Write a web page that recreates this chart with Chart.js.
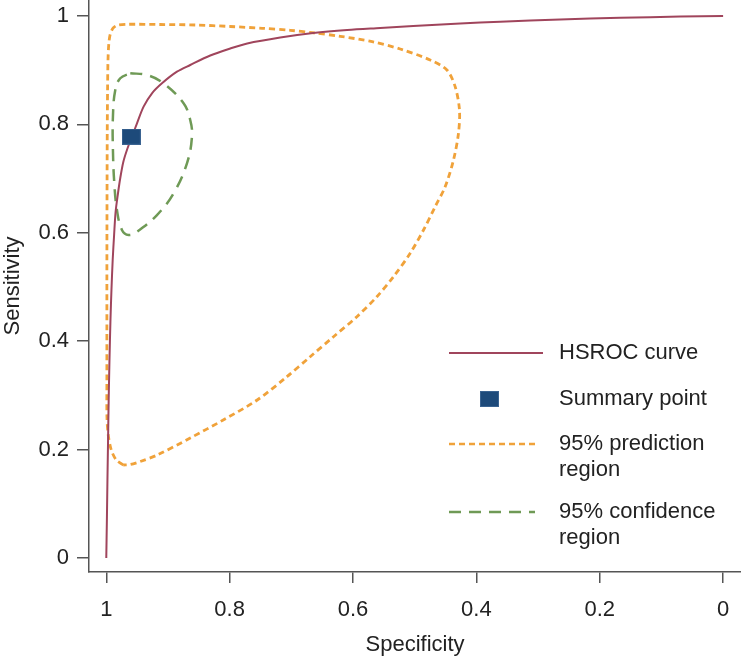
<!DOCTYPE html>
<html>
<head>
<meta charset="utf-8">
<script src="https://cdn.jsdelivr.net/npm/chart.js@4/dist/chart.umd.min.js"></script>
<style>
  html, body { margin: 0; padding: 0; background: #fff; }
  #wrap { width: 741px; height: 658px; }
</style>
</head>
<body>
<div id="wrap"><canvas id="roc" width="741" height="658"></canvas></div>
<script>
// Data -----------------------------------------------------------------------------------

var TICK_VALUES = [0, 0.2, 0.4, 0.6, 0.8, 1];

// HSROC curve (specificity, sensitivity)
var HSROC_SPEC = [1.0, 0.9990, 0.9981, 0.9971, 0.9961, 0.9948, 0.9932, 0.9916, 0.9896, 0.9873, 0.9849, 0.9814, 0.9773, 0.9724, 0.9665, 0.9584, 0.9502, 0.9395, 0.9259, 0.9097, 0.8854, 0.8639, 0.8314, 0.7990, 0.7715, 0.7180, 0.6645, 0.6094, 0.5559, 0.5024, 0.4263, 0.3614, 0.2642, 0.1669, 0.0697, 0.0];
var HSROC_SENS = [0.0, 0.0701, 0.1439, 0.2177, 0.2915, 0.3653, 0.4391, 0.4945, 0.5498, 0.5959, 0.6384, 0.6697, 0.7011, 0.7306, 0.7528, 0.7773, 0.8020, 0.8327, 0.8574, 0.8758, 0.8972, 0.9096, 0.9271, 0.9400, 0.9493, 0.9603, 0.9686, 0.9742, 0.9779, 0.9815, 0.9862, 0.9895, 0.9935, 0.9967, 0.9989, 1.0];

var SUMMARY_SPEC = [0.9595];
var SUMMARY_SENS = [0.7773];

// 95% prediction region (closed contour)
var PRED_SPEC = [0.9724, 0.9838, 0.9919, 0.9968, 0.9989, 0.9990, 0.9990, 0.9990, 0.9989, 0.9987, 0.9984, 0.9979, 0.9972, 0.9959, 0.9935, 0.9887, 0.9822, 0.9643, 0.9125, 0.8558, 0.7990, 0.7472, 0.7018, 0.6661, 0.6207, 0.5689, 0.5235, 0.4749, 0.4478, 0.4344, 0.4274, 0.4290, 0.4371, 0.4506, 0.4668, 0.4857, 0.5073, 0.5344, 0.5613, 0.5937, 0.6316, 0.6694, 0.7071, 0.7553, 0.8104, 0.8639, 0.9173, 0.9449, 0.9611, 0.9724];
var PRED_SENS = [0.1716, 0.1808, 0.1993, 0.2269, 0.2601, 0.3284, 0.4207, 0.5129, 0.6052, 0.6974, 0.7897, 0.8635, 0.9188, 0.9483, 0.9668, 0.9779, 0.9828, 0.9847, 0.9843, 0.9834, 0.9806, 0.9773, 0.9736, 0.9692, 0.9625, 0.9526, 0.9391, 0.9188, 0.9004, 0.8696, 0.8266, 0.7836, 0.7343, 0.6851, 0.6482, 0.6052, 0.5622, 0.5190, 0.4821, 0.4452, 0.4083, 0.3714, 0.3345, 0.2915, 0.2546, 0.2214, 0.1900, 0.1780, 0.1725, 0.1716];

// 95% confidence region (closed contour)
var CONF_SPEC = [0.9611, 0.9340, 0.9071, 0.8747, 0.8639, 0.8611, 0.8692, 0.8909, 0.9178, 0.9502, 0.9638, 0.9746, 0.9827, 0.9870, 0.9892, 0.9892, 0.9854, 0.9773, 0.9611];
var CONF_SENS = [0.8943, 0.8911, 0.8758, 0.8389, 0.8081, 0.7773, 0.7282, 0.6729, 0.6328, 0.6020, 0.5959, 0.6052, 0.6421, 0.6919, 0.7528, 0.8142, 0.8635, 0.8851, 0.8943];

// Styles ---------------------------------------------------------------------------------

var FONT = '"Liberation Sans", Arial, Helvetica, sans-serif';
var TEXT_COLOR = '#222';
var AXIS_COLOR = '#555';

var HSROC_COLOR = '#a0455c';
var SUMMARY_COLOR = '#1d4a7a';
var PRED_COLOR = '#f0a23a';
var CONF_COLOR = '#6f9a56';

var PRED_DASH = [6, 4];
var CONF_DASH = [12, 8];

function toPoints(xs, ys) {
    return xs.map(function (x, i) { return { x: x, y: ys[i] }; });
}

function makeSquare() {
    var c = document.createElement('canvas');
    c.width = 19;
    c.height = 16;
    var g = c.getContext('2d');
    g.fillStyle = SUMMARY_COLOR;
    g.fillRect(0, 0, 19, 16);
    g.strokeStyle = '#3a6391';
    g.lineWidth = 1;
    g.strokeRect(0.5, 0.5, 18, 15);
    return c;
}

var square = makeSquare();

function fixFit(scale, size, vertical) {
    if (vertical) {
        scale.width = size;
    } else {
        scale.height = size;
    }
    scale.paddingTop = 0;
    scale.paddingBottom = 0;
    scale.paddingLeft = 0;
    scale.paddingRight = 0;
}

// Legend drawn inside the plot area, lower right -------------------------------------------

var insideLegend = {
    id: 'insideLegend',
    afterDraw: function (chart) {
        var ctx = chart.ctx;
        var area = chart.chartArea;
        var x0 = area.right - 292;
        var x1 = area.right - 198;
        var tx = area.right - 182;
        var base = area.bottom;

        ctx.save();
        ctx.font = '22px ' + FONT;
        ctx.fillStyle = TEXT_COLOR;
        ctx.textBaseline = 'middle';
        ctx.textAlign = 'left';

        var items = [
            { kind: 'line', color: HSROC_COLOR, dash: [], width: 2, y: base - 219, text: ['HSROC curve'] },
            { kind: 'square', y: base - 173, text: ['Summary point'] },
            { kind: 'line', color: PRED_COLOR, dash: PRED_DASH, width: 2.5, y: base - 128, text: ['95% prediction', 'region'], end: x1 - 8 },
            { kind: 'line', color: CONF_COLOR, dash: CONF_DASH, width: 2.5, y: base - 60, text: ['95% confidence', 'region'], end: x1 - 8 }
        ];

        items.forEach(function (it) {
            if (it.kind === 'line') {
                ctx.beginPath();
                ctx.setLineDash(it.dash);
                ctx.strokeStyle = it.color;
                ctx.lineWidth = it.width;
                ctx.moveTo(x0, it.y);
                ctx.lineTo(it.end || x1, it.y);
                ctx.stroke();
                ctx.setLineDash([]);
            } else {
                ctx.drawImage(square, area.right - 261, it.y - 8);
            }
            it.text.forEach(function (t, k) {
                ctx.fillText(t, tx, it.y + k * 26);
            });
        });
        ctx.restore();
    }
};

// Chart ----------------------------------------------------------------------------------

new Chart(document.getElementById('roc').getContext('2d'), {
    type: 'scatter',
    data: {
        datasets: [
            {
                label: 'Summary point',
                data: toPoints(SUMMARY_SPEC, SUMMARY_SENS),
                pointStyle: square,
                pointRadius: 9,
                order: 0
            },
            {
                label: 'HSROC curve',
                data: toPoints(HSROC_SPEC, HSROC_SENS),
                showLine: true,
                borderColor: HSROC_COLOR,
                borderWidth: 2,
                pointRadius: 0,
                tension: 0.3,
                order: 1
            },
            {
                label: '95% confidence region',
                data: toPoints(CONF_SPEC, CONF_SENS),
                showLine: true,
                borderColor: CONF_COLOR,
                borderWidth: 2.5,
                borderDash: CONF_DASH,
                pointRadius: 0,
                tension: 0.4,
                order: 2
            },
            {
                label: '95% prediction region',
                data: toPoints(PRED_SPEC, PRED_SENS),
                showLine: true,
                borderColor: PRED_COLOR,
                borderWidth: 2.8,
                borderDash: PRED_DASH,
                pointRadius: 0,
                tension: 0.3,
                order: 3
            }
        ]
    },
    options: {
        responsive: false,
        animation: false,
        layout: { padding: 0, autoPadding: false },
        plugins: {
            legend: { display: false },
            tooltip: { enabled: false }
        },
        scales: {
            x: {
                type: 'linear',
                reverse: true,
                min: -0.029,
                max: 1.028,
                afterBuildTicks: function (scale) {
                    scale.ticks = TICK_VALUES.map(function (v) { return { value: v }; });
                },
                afterFit: function (scale) { fixFit(scale, 86, false); },
                ticks: {
                    color: TEXT_COLOR,
                    font: { family: FONT, size: 22 },
                    padding: 14,
                    maxRotation: 0,
                    callback: function (v) { return String(v); }
                },
                grid: { drawOnChartArea: false, drawTicks: true, tickLength: 11, color: AXIS_COLOR, lineWidth: 1.5 },
                border: { display: true, color: AXIS_COLOR, width: 1.5 },
                title: {
                    display: true,
                    text: 'Specificity',
                    color: TEXT_COLOR,
                    font: { family: FONT, size: 22 },
                    padding: 0
                }
            },
            y: {
                type: 'linear',
                min: -0.0258,
                max: 1.0295,
                afterBuildTicks: function (scale) {
                    scale.ticks = TICK_VALUES.map(function (v) { return { value: v }; });
                },
                afterFit: function (scale) { fixFit(scale, 89, true); },
                ticks: {
                    color: TEXT_COLOR,
                    font: { family: FONT, size: 22 },
                    padding: 8,
                    callback: function (v) { return String(v); }
                },
                grid: { drawOnChartArea: false, drawTicks: true, tickLength: 12, color: AXIS_COLOR, lineWidth: 1.5 },
                border: { display: true, color: AXIS_COLOR, width: 1.5 },
                title: {
                    display: true,
                    text: 'Sensitivity',
                    color: TEXT_COLOR,
                    font: { family: FONT, size: 22 },
                    padding: 0
                }
            }
        }
    },
    plugins: [insideLegend]
});
</script>
</body>
</html>
